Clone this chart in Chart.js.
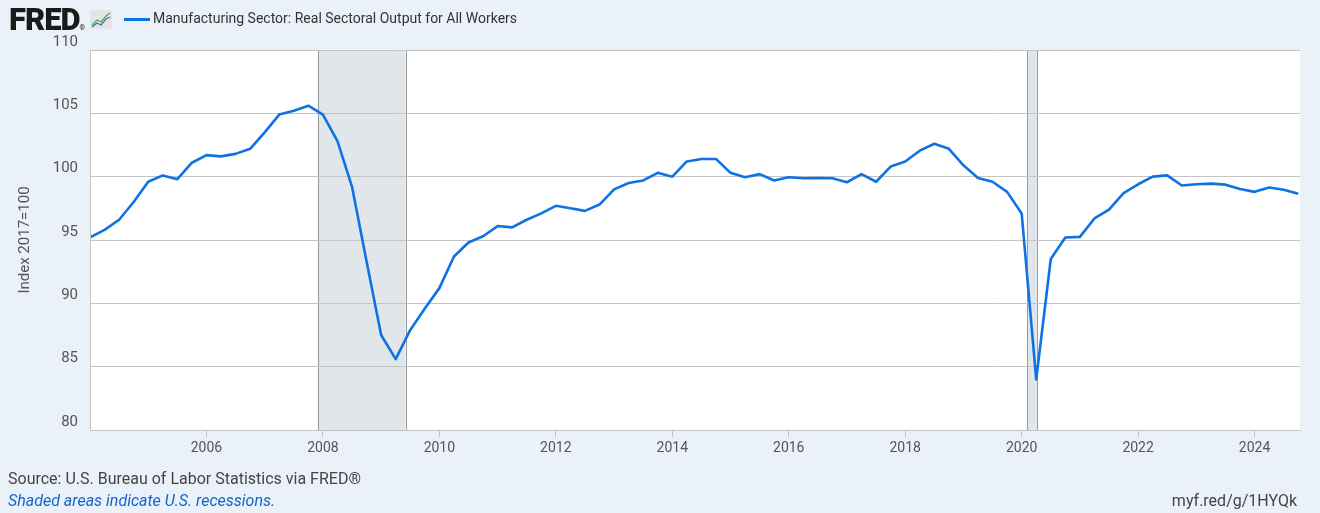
<!DOCTYPE html>
<html>
<head>
<meta charset="utf-8">
<script src="https://cdn.jsdelivr.net/npm/chart.js@4"></script>
<style>
  html, body { margin:0; padding:0; }
  body { width:1320px; height:513px; background:#eaf1f9; font-family:Roboto, "Noto Sans", sans-serif; position:relative; overflow:hidden; }
  #wrap { position:absolute; left:0; top:0; width:1320px; height:513px; }
  .logo { position:absolute; left:9px; top:1px; font-size:31px; font-weight:900; color:#1a1a1a; letter-spacing:-1px; }
  .logo-icon { position:absolute; left:90px; top:10px; width:22px; height:19px; background:#e4e4e4; border-radius:2px; }
  .legend-line { position:absolute; left:124px; top:18px; width:26px; height:3px; background:#0f72e3; }
  .legend-text { position:absolute; left:153px; top:10px; font-size:14px; color:#333; white-space:nowrap; }
  .source { position:absolute; left:8px; top:469px; font-size:16px; color:#444; }
  .shaded { position:absolute; left:8px; top:491px; font-size:16px; color:#1166cc; font-style:italic; }
  .link { position:absolute; right:23px; top:491px; font-size:16px; color:#444; }
</style>
</head>
<body>
<div id="wrap"><canvas id="c" width="1320" height="513"></canvas></div>
<div class="logo">FRED<span style="font-size:7px;font-weight:400;letter-spacing:0">®</span></div>
<svg class="logo-icon" viewBox="0 0 22 19">
  <polyline points="2,15 7,10 11,12 16,6 20,3" fill="none" stroke="#4caf50" stroke-width="1.3"/>
  <polyline points="2,17 7,13 11,15 16,9 20,7" fill="none" stroke="#3f6fb5" stroke-width="1.3"/>
</svg>
<div class="legend-line"></div>
<div class="legend-text">Manufacturing Sector: Real Sectoral Output for All Workers</div>
<div class="source">Source: U.S. Bureau of Labor Statistics via FRED®</div>
<div class="shaded">Shaded areas indicate U.S. recessions.</div>
<div class="link">myf.red/g/1HYQk</div>

<script>
// quarterly, 2004Q1 .. 2024Q4
const startYear = 2004;
const outputIndex = [
  95.2, 95.8, 96.6, 98.0,
  99.6, 100.1, 99.8, 101.1,
  101.7, 101.6, 101.8, 102.2,
  103.5, 104.9, 105.2, 105.6,
  104.9, 102.8, 99.2, 93.3,
  87.5, 85.6, 87.9, 89.6,
  91.2, 93.7, 94.8, 95.3,
  96.1, 96.0, 96.6, 97.1,
  97.7, 97.5, 97.3, 97.8,
  99.0, 99.5, 99.7, 100.3,
  100.0, 101.2, 101.4, 101.4,
  100.3, 99.95, 100.2, 99.7,
  99.95, 99.87, 99.9, 99.87,
  99.56, 100.2, 99.6, 100.8,
  101.2, 102.05, 102.6, 102.2,
  100.9, 99.9, 99.6, 98.8,
  97.1, 84.0, 93.5, 95.2,
  95.25, 96.7, 97.4, 98.7,
  99.4, 100.0, 100.1, 99.3,
  99.4, 99.45, 99.37, 99.03,
  98.8, 99.15, 98.97, 98.66
];
const quarterX = outputIndex.map((v, i) => startYear + i / 4);
const yearTicks = [2006, 2008, 2010, 2012, 2014, 2016, 2018, 2020, 2022, 2024];
const yTicks = [80, 85, 90, 95, 100, 105, 110];
const recessionStart = [2007.91, 2020.09];
const recessionEnd = [2009.42, 2020.26];

const bgPlugin = {
  id: 'bg',
  beforeDraw(chart) {
    const { ctx, chartArea: a, scales: { x } } = chart;
    ctx.save();
    ctx.fillStyle = '#ffffff';
    ctx.fillRect(a.left, a.top, a.right - a.left, a.bottom - a.top);
    recessionStart.forEach((s, i) => {
      const x0 = x.getPixelForValue(s), x1 = x.getPixelForValue(recessionEnd[i]);
      ctx.fillStyle = '#e1e6eb';
      ctx.fillRect(x0, a.top, x1 - x0, a.bottom - a.top);
      ctx.strokeStyle = '#9a9a9a';
      ctx.lineWidth = 1;
      ctx.beginPath();
      ctx.moveTo(Math.round(x0) + 0.5, a.top); ctx.lineTo(Math.round(x0) + 0.5, a.bottom);
      ctx.moveTo(Math.round(x1) + 0.5, a.top); ctx.lineTo(Math.round(x1) + 0.5, a.bottom);
      ctx.stroke();
    });
    ctx.restore();
  },
  afterDatasetsDraw(chart) {
    const { ctx, chartArea: a } = chart;
    ctx.save();
    ctx.strokeStyle = '#c4c4c4';
    ctx.lineWidth = 1;
    ctx.beginPath();
    ctx.moveTo(a.left + 0.5, a.top); ctx.lineTo(a.left + 0.5, a.bottom);
    ctx.stroke();
    ctx.restore();
  }
};

new Chart(document.getElementById('c'), {
  type: 'line',
  data: {
    datasets: [{
      data: outputIndex.map((v, i) => ({ x: quarterX[i], y: v })),
      borderColor: '#0f72e3', borderWidth: 2.6, borderJoinStyle: 'round',
      pointRadius: 0, tension: 0, fill: false
    }]
  },
  options: {
    responsive: false, animation: false,
    layout: { padding: { left: 0, top: 50, right: 20, bottom: 43 } },
    plugins: { legend: { display: false }, tooltip: { enabled: false } },
    scales: {
      x: {
        type: 'linear', min: 2004, max: 2024.78,
        afterFit: s => { s.height = 40; },
        afterBuildTicks: s => { s.ticks = yearTicks.map(v => ({ value: v })); },
        grid: { drawOnChartArea: false, drawTicks: true, tickLength: 7, color: '#c4c4c4' },
        border: { color: '#c4c4c4' },
        ticks: { color: '#555', font: { family: 'Roboto', size: 14 }, padding: 3, maxRotation: 0, autoSkip: false, callback: v => String(v) }
      },
      y: {
        min: 80, max: 110,
        afterFit: s => { s.width = 90; },
        afterBuildTicks: s => { s.ticks = yTicks.map(v => ({ value: v })); },
        grid: { color: '#c4c4c4', lineWidth: 1, drawTicks: false },
        border: { display: false },
        ticks: { color: '#555', font: { family: 'Roboto', size: 15 }, padding: 12, labelOffset: -8 },
        title: { display: true, text: 'Index 2017=100', color: '#555', font: { family: 'Roboto', size: 15 }, padding: { top: 16, bottom: 0 } }
      }
    }
  },
  plugins: [bgPlugin]
});
</script>
</body>
</html>
